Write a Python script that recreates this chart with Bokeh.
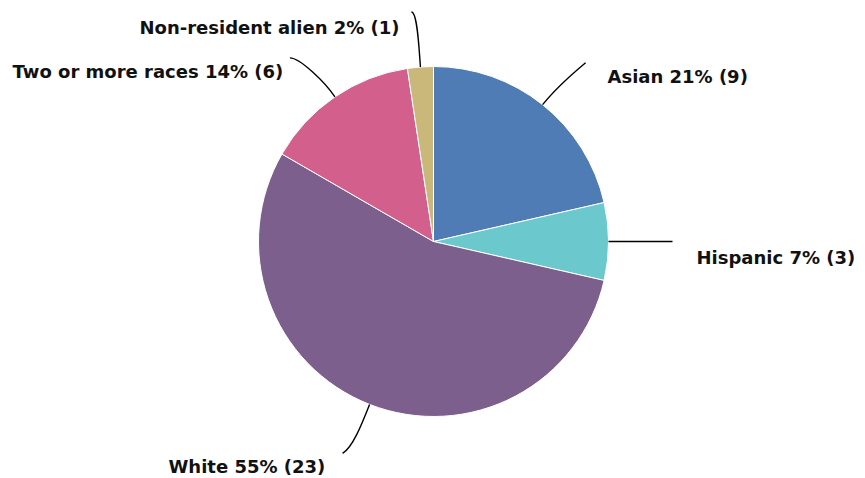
import math
from bokeh.plotting import figure
from bokeh.models import Range1d, ColumnDataSource
from bokeh.core.properties import value
from bokeh.embed import file_html
from bokeh.resources import INLINE

categories = ["Asian", "Hispanic", "White", "Two or more races", "Non-resident alien"]
counts = [9, 3, 23, 6, 1]
colors = ["#507CB6", "#6BC8CD", "#7D5F8E", "#D35F8D", "#C9B87A"]

W, H = 857, 478
p = figure(width=W, height=H, output_backend="svg", toolbar_location=None,
           x_range=Range1d(0, W), y_range=Range1d(478 - H, 478),
           min_border=0)
p.axis.visible = False
p.grid.visible = False
p.outline_line_color = None
p.background_fill_color = "white"
p.border_fill_color = "white"

cx, cy, r = 433, 478 - 241, 175
total = sum(counts)
starts, ends, mids = [], [], []
acc = 0
for c in counts:
    a0 = math.pi / 2 - 2 * math.pi * acc / total
    acc += c
    a1 = math.pi / 2 - 2 * math.pi * acc / total
    starts.append(a0)
    ends.append(a1)
    mids.append((a0 + a1) / 2)

src = ColumnDataSource(dict(start=starts, end=ends, color=colors))
p.wedge(x=cx, y=cy, radius=r, start_angle="start", end_angle="end", direction="clock",
        fill_color="color", line_color="white", line_width=1, source=src)

labels = [f"{n} {round(100*c/total)}% ({c})" for n, c in zip(categories, counts)]

# leader line geometry (page px offsets from the wedge edge point)
leader = [(43, -42), (64, 0), (-27, 49), (-45, -39), (-9, -55)]
ctrl1 = [22, 0, 22, 18, 18]
ctrl2 = [(-12, 10), (0, 0), (10, -6), (10, 0), (6, 0)]
# label left edge x and baseline y (page px)
label_x = [607, 696, 168, 12, 139]
label_base = [76, 257, 466, 71, 26.5]

for i, m in enumerate(mids):
    x0 = cx + r * math.cos(m)
    y0 = cy + r * math.sin(m)
    ex = x0 + leader[i][0]
    ey = y0 - leader[i][1]
    c1x = x0 + ctrl1[i] * math.cos(m)
    c1y = y0 + ctrl1[i] * math.sin(m)
    c2x = ex + ctrl2[i][0]
    c2y = ey - ctrl2[i][1]
    p.bezier(x0=[x0], y0=[y0], x1=[ex], y1=[ey], cx0=[c1x], cy0=[c1y], cx1=[c2x], cy1=[c2y],
             line_color="black", line_width=1.4)
    p.text(x=[label_x[i]], y=[478 - label_base[i]], text=[labels[i]],
           text_font=value("DejaVu Sans"), text_font_style="bold", text_font_size="18px",
           text_color="#111111", text_align="left", text_baseline="alphabetic")

open("out.html", "w").write(file_html(p, INLINE))
